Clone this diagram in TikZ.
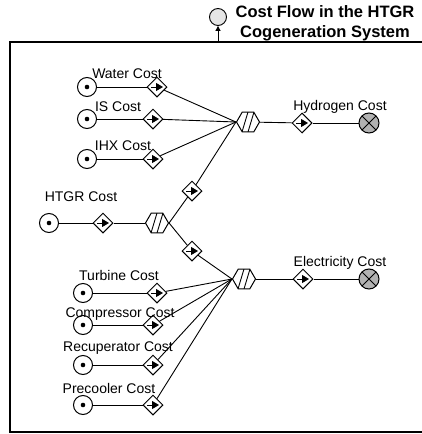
\documentclass[tikz,border=0pt]{standalone}
\usepackage{fontspec}
\setmainfont{Liberation Sans}
\usetikzlibrary{arrows.meta,shapes.geometric}
\definecolor{sinkgray}{gray}{0.7}
\definecolor{portgray}{gray}{0.9}

\begin{document}
\begin{tikzpicture}[x=1pt,y=-1pt,
    source/.style={circle,draw,line width=1pt,minimum size=19pt,inner sep=0pt,
        path picture={\fill (path picture bounding box.center) circle (2.3pt);}},
    valve/.style={diamond,draw,line width=1pt,minimum width=20pt,minimum height=20pt,inner sep=0pt,
        path picture={\draw[line width=1pt,-{Triangle[length=7pt,width=8pt]}]
            ([xshift=-6pt]path picture bounding box.center) -- ([xshift=6pt]path picture bounding box.center);}},
    junction/.style={regular polygon,regular polygon sides=6,draw,line width=1pt,minimum size=23pt,inner sep=0pt,
        path picture={\draw[line width=0.9pt] ([shift={(-6pt,-10pt)}]path picture bounding box.center) -- ([shift={(0pt,10pt)}]path picture bounding box.center);
                      \draw[line width=0.9pt] ([shift={(0pt,-10pt)}]path picture bounding box.center) -- ([shift={(6pt,10pt)}]path picture bounding box.center);}},
    sink/.style={circle,draw,fill=sinkgray,line width=1pt,minimum size=20pt,inner sep=0pt,
        path picture={\draw[line width=0.9pt] (path picture bounding box.south west) -- (path picture bounding box.north east);
                      \draw[line width=0.9pt] (path picture bounding box.north west) -- (path picture bounding box.south east);}},
    costlabel/.style={font=\fontsize{14}{16}\selectfont,inner sep=0pt}]

\useasboundingbox (0,0) rectangle (422,434);

% frame and output port
\draw[line width=1.4pt] (424,42) -- (10,42) -- (10,432) -- (424,432);
\coordinate (out) at (218,42);
\node[circle,draw,line width=0.9pt,fill=portgray,minimum size=17pt,inner sep=0pt] (port) at (218,17) {};
\node[align=center,font=\fontsize{16.5}{20}\selectfont\bfseries] (title) at (325,23)
    {Cost Flow in the HTGR\\Cogeneration System};

\begin{scope}[every node/.style={source}]
    \node (swater) at (87,87) {};
    \node (sis) at (87,119) {};
    \node (sihx) at (87,159) {};
    \node (shtgr) at (49,223) {};
    \node (sturb) at (83,293) {};
    \node (scomp) at (83,325) {};
    \node (srecup) at (83,365) {};
    \node (sprec) at (83,405) {};
\end{scope}

\begin{scope}[every node/.style={valve}]
    \node (vwater) at (157,87) {};
    \node (vis) at (153,119) {};
    \node (vihx) at (153,159) {};
    \node (vhtgr) at (103,223) {};
    \node (vup) at (192,191) {};
    \node (vdown) at (192,251) {};
    \node (vturb) at (157,293) {};
    \node (vcomp) at (153,325) {};
    \node (vrecup) at (153,365) {};
    \node (vprec) at (153,405) {};
    \node (vhyd) at (302,123) {};
    \node (velec) at (303,279) {};
\end{scope}

\begin{scope}[every node/.style={junction}]
    \node (jhyd) at (248,122) {};
    \node (jhtgr) at (157,223) {};
    \node (jelec) at (244,279) {};
\end{scope}

\begin{scope}[every node/.style={sink}]
    \node (khyd) at (369,123) {};
    \node (kelec) at (369,279) {};
\end{scope}

\begin{scope}[every edge/.style={draw=black,line width=0.9pt}]
    \path (swater) edge (vwater);
    \path (sis) edge (vis);
    \path (sihx) edge (vihx);
    \path (shtgr) edge (vhtgr);
    \path (sturb) edge (vturb);
    \path (scomp) edge (vcomp);
    \path (srecup) edge (vrecup);
    \path (sprec) edge (vprec);
    \path (vwater) edge (jhyd.west);
    \path (vis) edge (jhyd.west);
    \path (vihx) edge (jhyd.west);
    \path (vup) edge (jhyd.west);
    \path (vhtgr) edge (jhtgr);
    \path (jhtgr.east) edge (vup);
    \path (jhtgr.east) edge (vdown);
    \path (vdown) edge (jelec.west);
    \path (vturb) edge (jelec.west);
    \path (vcomp) edge (jelec.west);
    \path (vrecup) edge (jelec.west);
    \path (vprec) edge (jelec.west);
    \path (jhyd) edge (vhyd);
    \path (vhyd) edge (khyd);
    \path (jelec) edge (velec);
    \path (velec) edge (kelec);
\end{scope}

\draw[line width=1pt,-{Triangle[length=5pt,width=5pt]}] (out) -- (port);

\begin{scope}[every node/.style={costlabel}]
    \node (lwater) at (127,74) {Water Cost};
    \node (lis) at (118,107) {IS Cost};
    \node (lihx) at (123,146) {IHX Cost};
    \node (lhtgr) at (81,197) {HTGR Cost};
    \node (lturb) at (119,275) {Turbine Cost};
    \node (lcomp) at (120,314) {Compressor Cost};
    \node (lrecup) at (118,348) {Recuperator Cost};
    \node (lprec) at (109,388) {Precooler Cost};
    \node (lhyd) at (340,107) {Hydrogen Cost};
    \node (lelec) at (340,263) {Electricity Cost};
\end{scope}

\end{tikzpicture}
\end{document}
